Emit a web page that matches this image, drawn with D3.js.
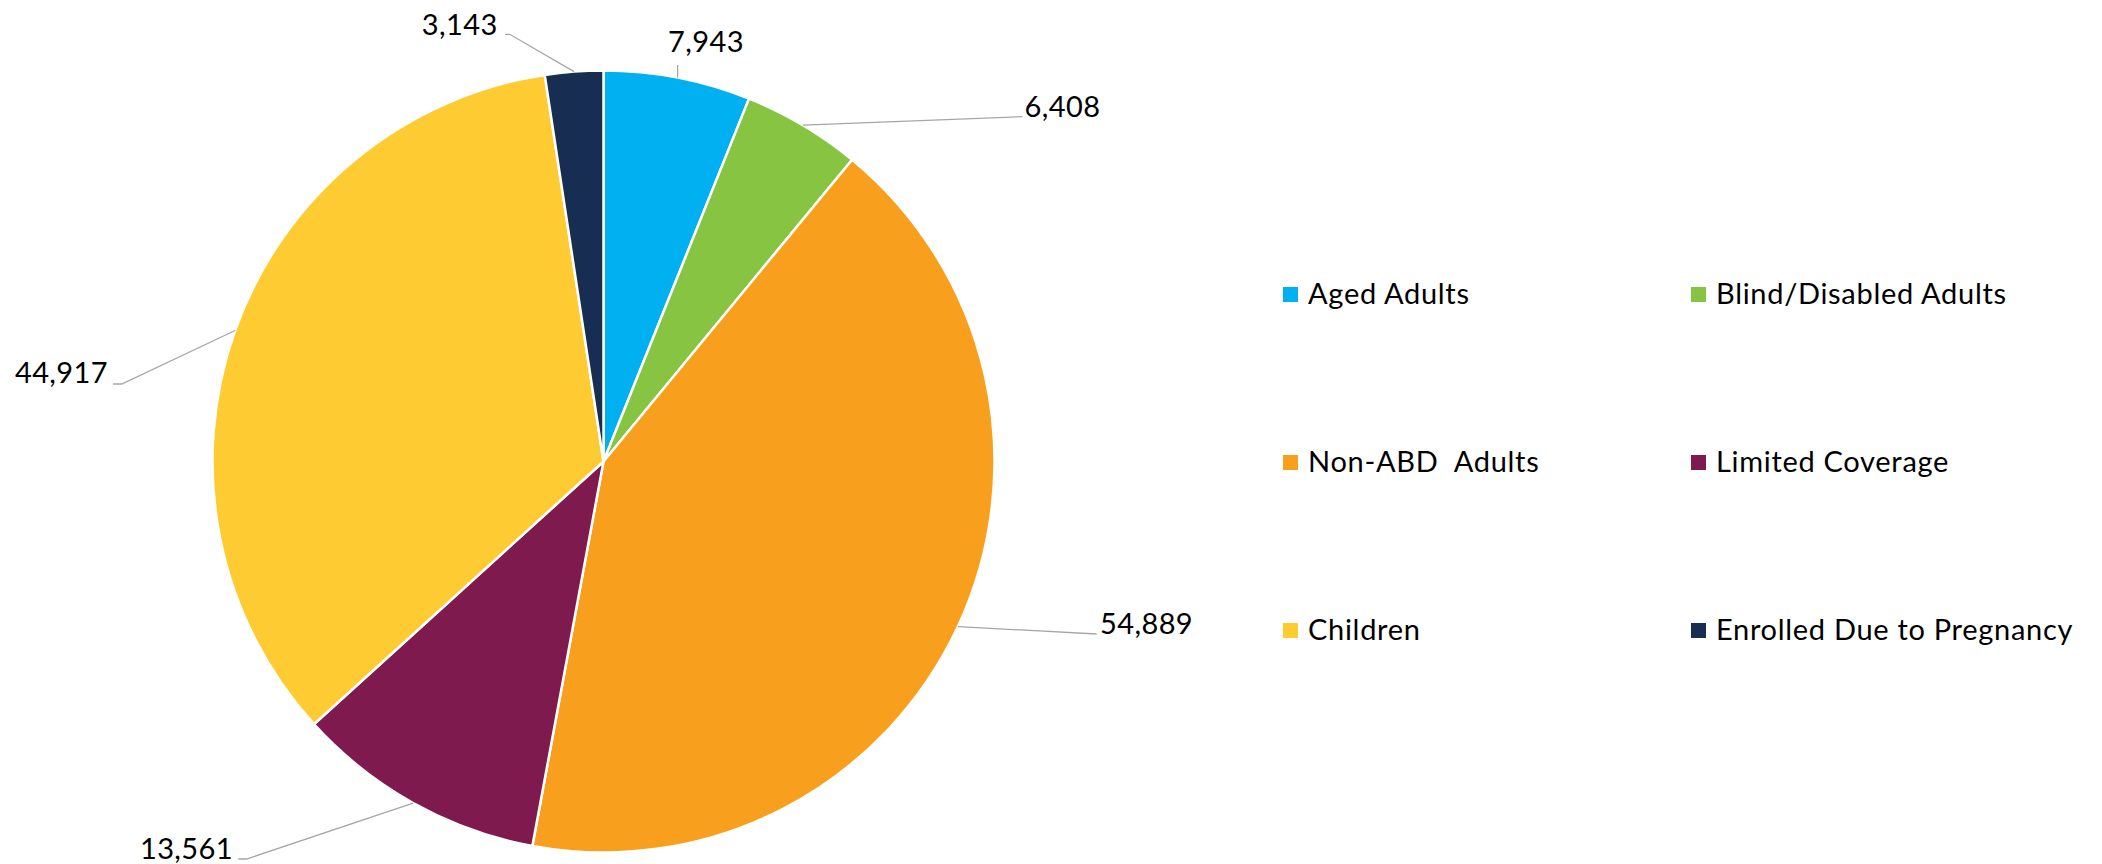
<!DOCTYPE html>
<html>
<head>
<meta charset="utf-8">
<script src="https://cdn.jsdelivr.net/npm/d3@7"></script>
<style>
  html, body { margin: 0; padding: 0; background: #ffffff; }
  svg { display: block; font-family: Lato, "Open Sans", sans-serif; }
</style>
</head>
<body>
<svg id="chart" width="2102" height="864"></svg>
<script>
// Enrollment by eligibility group
const categories = [
  "Aged Adults",
  "Blind/Disabled Adults",
  "Non-ABD  Adults",
  "Limited Coverage",
  "Children",
  "Enrolled Due to Pregnancy"
];
const enrollment = [7943, 6408, 54889, 13561, 44917, 3143];
const sliceColors = ["#00B0F0", "#86C441", "#F8A01D", "#7F1A4F", "#FFCB33", "#172E52"];

// Label callout layout, relative to the pie centre:
// elbow = where the leader bends, tail = short horizontal run, text = label anchor
const labelLayout = [
  { elbow: [null, -396.5], tail: 0,    text: [102.5, -409.5], anchor: "middle" },
  { elbow: [419, -344.8],  tail: 0,    text: [421, -344.5],   anchor: "start" },
  { elbow: [493.2, 172.5], tail: 0,    text: [496.5, 172.5],  anchor: "start" },
  { elbow: [-356.8, 397.5], tail: -8.4, text: [-370.5, 397],  anchor: "end" },
  { elbow: [-481.8, -77.5], tail: -8.7, text: [-495.5, -78.5], anchor: "end" },
  { elbow: [-93.8, -427.2], tail: -4.7, text: [-105.8, -426.5], anchor: "end" }
];

const cx = 603.5, cy = 461.5, radius = 391;
const svg = d3.select("#chart");
const fmt = d3.format(",");

const rows = categories.map((c, i) => ({ name: c, value: enrollment[i], color: sliceColors[i], layout: labelLayout[i] }));

const pie = d3.pie().sort(null).value(d => d.value);
const arc = d3.arc().innerRadius(0).outerRadius(radius);
const arcs = pie(rows);

const g = svg.append("g").attr("transform", `translate(${cx},${cy})`);

g.selectAll("path.slice")
  .data(arcs)
  .join("path")
  .attr("class", "slice")
  .attr("d", arc)
  .attr("fill", d => d.data.color)
  .attr("stroke", "#ffffff")
  .attr("stroke-width", 2.5)
  .attr("stroke-linejoin", "round");

// Leader lines from the slice edge at its mid-angle, then the value label
const leaders = g.append("g");
arcs.forEach(a => {
  const mid = (a.startAngle + a.endAngle) / 2;
  const ex = radius * Math.sin(mid), ey = -radius * Math.cos(mid);
  const L = a.data.layout;
  const bx = L.elbow[0] === null ? ex : L.elbow[0];
  const by = L.elbow[1];
  const pts = [[ex, ey], [bx, by]];
  if (L.tail) pts.push([bx + L.tail, by]);
  leaders.append("path")
    .attr("d", d3.line()(pts))
    .attr("fill", "none")
    .attr("stroke", "#A6A6A6")
    .attr("stroke-width", 1.3);
  g.append("text")
    .attr("x", L.text[0])
    .attr("y", L.text[1])
    .attr("text-anchor", L.anchor)
    .attr("font-size", 29)
    .attr("letter-spacing", 0.4)
    .attr("fill", "#000000")
    .text(fmt(a.data.value));
});

// Legend: two columns, three rows
const legendCols = [1283, 1691];
const legendRows = [294.5, 462.5, 630.5];
const legend = svg.append("g");
rows.forEach((d, i) => {
  const x = legendCols[i % 2];
  const y = legendRows[Math.floor(i / 2)];
  legend.append("rect")
    .attr("x", x).attr("y", y - 7.5)
    .attr("width", 15).attr("height", 15)
    .attr("fill", d.color);
  legend.append("text")
    .attr("x", x + 25)
    .attr("y", y + 9)
    .attr("font-size", 29)
    .attr("letter-spacing", 0.7)
    .attr("fill", "#000000")
    .text(d.name)
    .style("white-space", "pre");
});
</script>
</body>
</html>
